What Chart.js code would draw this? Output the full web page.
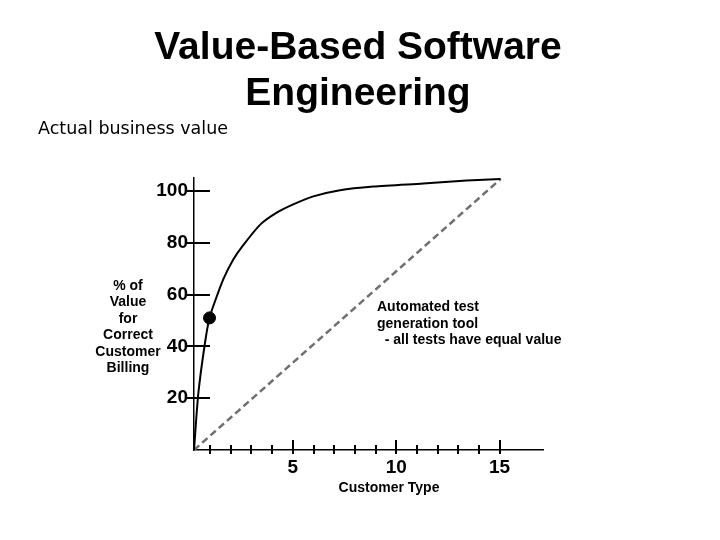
<!DOCTYPE html>
<html>
<head>
<meta charset="utf-8">
<script src="https://cdn.jsdelivr.net/npm/chart.js@4"></script>
<style>
  html, body { margin: 0; padding: 0; background: #fff; }
  #wrap { width: 720px; height: 540px; position: relative; }
  canvas { display: block; }
</style>
</head>
<body>
<div id="wrap"><canvas id="c" width="720" height="540"></canvas></div>
<script>
// ---- data ----
const titleLines = ['Value-Based Software', 'Engineering'];
const subtitleText = 'Actual business value';
const yTitleLines = ['% of', 'Value', 'for', 'Correct', 'Customer', 'Billing'];
const xTitleText = 'Customer Type';
const noteLines = ['Automated test', 'generation tool', '  - all tests have equal value'];

const yTickValues = [20, 40, 60, 80, 100];
const xTickValues = [1, 2, 3, 4, 5, 6, 7, 8, 9, 10, 11, 12, 13, 14, 15];
const xMajorTicks = [5, 10, 15];
const xLabelled = [5, 10, 15];

// business-value curve (customer type vs % value)
const curveX = [0.22, 0.43, 0.75, 0.97, 1.24, 1.64, 2.12, 2.53, 3.41, 4.22, 5.02, 5.99, 7.28, 8.89, 11.31, 13.41, 15.05];
const curveY = [0, 21.9, 41.3, 51.0, 57.5, 66.0, 73.5, 78.3, 86.9, 91.6, 94.8, 97.9, 100.3, 101.7, 102.9, 104.0, 104.6];
// automated test generation: straight equal-value line
const straightX = [0.22, 15.05];
const straightY = [0, 104.6];
// highlighted point
const dotX = [0.97];
const dotY = [51.0];

const FONT = "'Liberation Sans', Arial, Helvetica, sans-serif";

const toPts = (xs, ys) => xs.map((x, i) => ({ x: x, y: ys[i] }));

const decor = {
  id: 'decor',
  afterDraw(chart) {
    const ctx = chart.ctx;
    const xs = chart.scales.x, ys = chart.scales.y;
    const x0 = xs.left, y0 = ys.bottom;
    ctx.save();
    ctx.strokeStyle = '#000';
    ctx.lineWidth = 2;
    // y tick marks crossing the axis
    yTickValues.forEach(v => {
      const py = Math.round(ys.getPixelForValue(v));
      ctx.beginPath();
      ctx.moveTo(x0 - 7, py);
      ctx.lineTo(x0 + 16, py);
      ctx.stroke();
    });
    // x tick marks crossing the axis
    xTickValues.forEach(v => {
      const px = Math.round(xs.getPixelForValue(v));
      const up = xMajorTicks.includes(v) ? 10 : 5;
      ctx.beginPath();
      ctx.moveTo(px, y0 - up);
      ctx.lineTo(px, y0 + 4);
      ctx.stroke();
    });

    ctx.fillStyle = '#000';
    // main title
    ctx.textAlign = 'center';
    ctx.textBaseline = 'alphabetic';
    ctx.font = 'bold 39px ' + FONT;
    ctx.fillText(titleLines[0], 358, 59);
    ctx.fillText(titleLines[1], 358, 105);
    // subtitle
    ctx.textAlign = 'left';
    ctx.font = "17.5px 'DejaVu Sans', sans-serif";
    ctx.fillText(subtitleText, 38, 134);
    // y axis title (horizontal, stacked)
    ctx.textAlign = 'center';
    ctx.font = 'bold 14px ' + FONT;
    yTitleLines.forEach((t, i) => ctx.fillText(t, 128, 290 + i * 16.4));
    // annotation
    ctx.textAlign = 'left';
    noteLines.forEach((t, i) => ctx.fillText(t, 377, 311 + i * 16.5));
    // x axis title
    ctx.textAlign = 'center';
    ctx.fillText(xTitleText, 389, 492);
    ctx.restore();
  }
};

new Chart(document.getElementById('c'), {
  type: 'scatter',
  data: {
    datasets: [
      {
        label: 'Automated test generation',
        data: toPts(straightX, straightY),
        showLine: true,
        borderColor: '#707070',
        borderWidth: 2.5,
        borderDash: [7, 4],
        pointRadius: 0,
        clip: false,
        order: 3
      },
      {
        label: 'Actual business value',
        data: toPts(curveX, curveY),
        showLine: true,
        borderColor: '#000',
        borderWidth: 2,
        tension: 0.25,
        pointRadius: 0,
        clip: false,
        order: 2
      },
      {
        label: 'Point',
        data: toPts(dotX, dotY),
        pointRadius: 6,
        pointBackgroundColor: '#000',
        pointBorderColor: '#000',
        showLine: false,
        clip: false,
        order: 1
      }
    ]
  },
  options: {
    responsive: false,
    animation: false,
    devicePixelRatio: 1,
    layout: { padding: { left: 124, right: 177, top: 178, bottom: 40 } },
    plugins: {
      legend: { display: false },
      tooltip: { enabled: false },
      title: { display: false }
    },
    scales: {
      x: {
        type: 'linear',
        min: 0.22,
        max: 17.1,
        afterFit: s => { s.height = 50; },
        afterBuildTicks: s => { s.ticks = xTickValues.map(v => ({ value: v })); },
        grid: { display: false, drawTicks: false },
        border: { display: true, color: '#000', width: 1.5 },
        ticks: {
          autoSkip: false,
          maxRotation: 0,
          padding: 6,
          color: '#000',
          font: { family: FONT, size: 19, weight: 'bold' },
          callback: v => (xLabelled.includes(v) ? String(v) : '')
        }
      },
      y: {
        type: 'linear',
        min: 0,
        max: 105,
        afterFit: s => { s.width = 70; },
        afterBuildTicks: s => { s.ticks = yTickValues.map(v => ({ value: v })); },
        grid: { display: false, drawTicks: false },
        border: { display: true, color: '#000', width: 1.5 },
        ticks: {
          padding: 6,
          color: '#000',
          font: { family: FONT, size: 19, weight: 'bold' },
          callback: v => String(v)
        }
      }
    }
  },
  plugins: [decor]
});
</script>
</body>
</html>
